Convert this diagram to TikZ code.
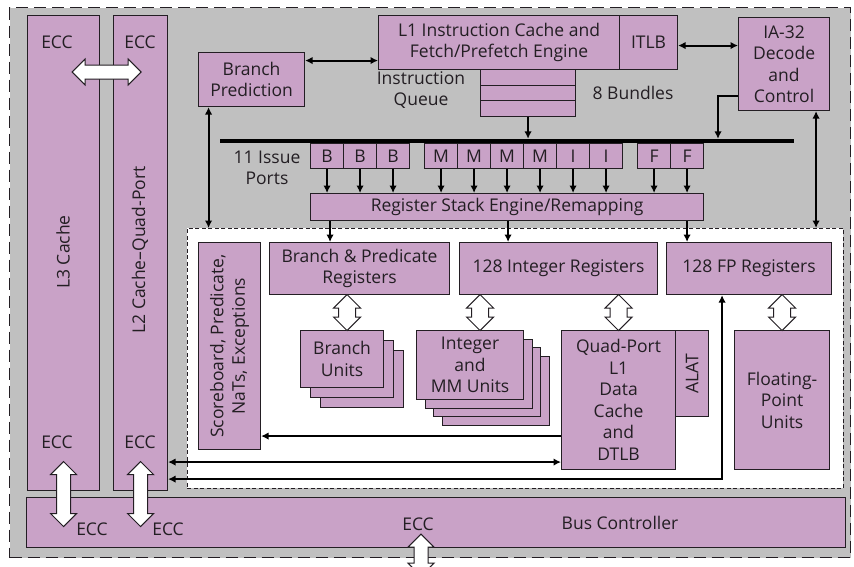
\documentclass[tikz,border=0pt]{standalone}
\usepackage{fontspec}
\setmainfont{Open Sans}
\usetikzlibrary{arrows.meta,shapes.arrows,calc}
\definecolor{lilac}{RGB}{201,162,199}
\definecolor{chipgray}{RGB}{192,192,192}
\definecolor{ink}{RGB}{35,30,35}

\begin{document}
\begin{tikzpicture}[x=1pt,y=-1pt,
  every node/.append style={font=\fontsize{17.5}{21.5}\selectfont, text=ink},
  wh/.style 2 args={minimum width=#1, minimum height=#2},
  box/.style={draw=ink, fill=lilac, line width=1.1pt, inner sep=0pt, align=center, anchor=north west},
  lbl/.style={inner sep=0pt, align=center},
  conn/.style={line width=2pt, draw=black},
  tip/.style={-{Latex[length=7.5pt,width=7.5pt]}},
  tips/.style={{Latex[length=7.5pt,width=7.5pt]}-{Latex[length=7.5pt,width=7.5pt]}},
  fatarrow/.style={shape=double arrow, draw=ink, fill=white, line width=1pt,
    inner xsep=0pt, inner ysep=8pt, minimum width=0pt, double arrow head extend=5pt,
    minimum height=#1},
  busarrow/.style={fatarrow=#1, inner ysep=6.5pt, double arrow head extend=6pt},
]
\useasboundingbox (0,0) rectangle (854,566);

% chip outline and execution core region
\node[fill=chipgray, draw=ink, dash pattern=on 12pt off 6pt, line width=1.3pt, inner sep=0pt,
  anchor=north west, wh={841}{550}] (chip) at (9,7) {};
\node[fill=white, draw=ink, dash pattern=on 4pt off 2.5pt, line width=0.9pt, inner sep=0pt,
  anchor=north west, wh={656}{260}] (core) at (187,228) {};

% caches
\node[box, wh={72}{475}] (l3) at (27,15) {};
\node[box, wh={54}{475}] (l2) at (113,15) {};
\node[lbl, rotate=90] at (63,252) {L3 Cache};
\node[lbl, rotate=90] at (140,250) {L2 Cache--Quad-Port};
\node[lbl] at (57,42) {ECC};
\node[lbl] at (140,42) {ECC};
\node[lbl] at (57,442) {ECC};
\node[lbl] at (140,442) {ECC};

% bus controller
\node[box, wh={819}{50}] (bus) at (26,497) {};
\node[lbl] at (620,523) {Bus Controller};
\node[lbl] at (92,529) {ECC};
\node[lbl] at (168,529) {ECC};
\node[lbl] at (418,524) {ECC};

% front end
\node[box, wh={106}{54}] (bp) at (198,52) {Branch\\Prediction};
\node[box, wh={241}{54}] (l1) at (378,15) {L1 Instruction Cache and\\Fetch/Prefetch Engine};
\node[box, wh={58}{54}] (itlb) at (619,15) {ITLB};
\node[box, wh={91}{93}] (ia) at (738,17) {IA-32\\Decode\\and\\Control};
\node[box, wh={95}{15.5}] (q1) at (480,69) {};
\node[box, wh={95}{15.5}] (q2) at (480,84.5) {};
\node[box, wh={95}{15.5}] (q3) at (480,100) {};
\node[lbl] at (421,90) {Instruction\\Queue};
\node[lbl] at (633,93) {8 Bundles};

% dispersal bar and issue ports
\node[fill=black, inner sep=0pt, anchor=west, wh={574}{4}] (bar) at (220,141) {};
\node[lbl] at (267,168) {11 Issue\\Ports};
\foreach \n/\x/\t in {b1/310/B, b2/343/B, b3/376/B,
                      m1/424/M, m2/457/M, m3/490/M, m4/523/M,
                      i1/556/I, i2/589/I, f1/637/F, f2/670/F}
  \node[box, wh={33}{25}] (\n) at (\x,143) {\t};
\node[box, wh={393}{27}] (rse) at (310,193) {Register Stack Engine/Remapping};

% register files
\node[box, wh={62}{207}] (sb) at (198,242) {};
\node[lbl, rotate=90] at (sb.center) {Scoreboard, Predicate,\\NaTs, Exceptions};
\node[box, wh={180}{52}] (bpr) at (269,242) {Branch \& Predicate\\Registers};
\node[box, wh={198}{52}] (ir) at (459,242) {128 Integer Registers};
\node[box, wh={165}{52}] (fpr) at (666,242) {128 FP Registers};

% execution units
\node[box, wh={83}{57}] (bu3) at (320,350) {};
\node[box, wh={83}{57}] (bu2) at (310,340) {};
\node[box, wh={83}{57}] (bu) at (300,330) {Branch\\Units};
\node[box, wh={107}{69}] (imu4) at (442,356) {};
\node[box, wh={107}{69}] (imu3) at (433.3,347.3) {};
\node[box, wh={107}{69}] (imu2) at (424.7,338.7) {};
\node[box, wh={107}{69}] (imu) at (416,330) {Integer\\and\\MM Units};
\node[box, wh={114}{139}] (dc) at (561,330) {Quad-Port\\L1\\Data\\Cache\\and\\DTLB};
\node[box, wh={33}{86}] (alat) at (675,330) {};
\node[lbl, rotate=90] at (alat.center) {ALAT};
\node[box, wh={95}{139}] (fpu) at (734,330) {Floating-\\Point\\Units};

% wide data paths
\node[busarrow=69] (a1) at ($(l3.north east)!0.5!(l2.north west)+(0,57)$) {};
\node[busarrow=65, rotate=90] (a2) at ($(l3.south)!0.5!(l3.south |- bus.north)$) {};
\node[busarrow=65, rotate=90] (a3) at ($(l2.south)!0.5!(l2.south |- bus.north)$) {};
\node[busarrow=42, rotate=90] (a4) at ($(bus.south)+(-15,7)$) {};
\node[fatarrow=36, rotate=90] (a5) at ($(bu.north)!0.5!(bu.north |- bpr.south)+(5,0)$) {};
\node[fatarrow=36, rotate=90] (a6) at ($(imu.north)!0.5!(imu.north |- ir.south)+(10,0)$) {};
\node[fatarrow=36, rotate=90] (a7) at ($(dc.north)!0.5!(dc.north |- ir.south)$) {};
\node[fatarrow=36, rotate=90] (a8) at ($(fpu.north)!0.5!(fpu.north |- fpr.south)$) {};

% control paths
\coordinate (bpl1) at ([yshift=19pt]bp.east);
\draw[conn, tips] (bpl1) -- (bpl1 -| l1.west);
\coordinate (itia) at ([yshift=-3pt]itlb.east);
\draw[conn, tips] (itia) -- (itia -| ia.west);
\draw[conn, tip] (q3.south) -- (q3.south |- bar.north);
\coordinate (iaout) at ([yshift=-32pt]ia.west);
\coordinate (iadrop) at ([xshift=-20pt]iaout);
\draw[conn, tip] (iaout) -| (iadrop |- bar.north);
\coordinate (iacore) at ([xshift=32pt]ia.south);
\draw[conn, tips] (iacore) -- (iacore |- core.north);
\coordinate (bpcore) at ([xshift=-43pt]bp.south);
\draw[conn, tips] (bpcore) -- (bpcore |- core.north);
\foreach \n in {b1,b2,b3,m1,m2,m3,m4,i1,i2,f1,f2}
  \draw[conn, tip] (\n.south) -- (\n.south |- rse.north);
\draw[conn, tip] ([xshift=3pt]b1.south |- rse.south) -- ([xshift=3pt]b1.south |- bpr.north);
\draw[conn, tip] ([xshift=1pt]m3.south |- rse.south) -- ([xshift=1pt]m3.south |- ir.north);
\draw[conn, tip] (f2.south |- rse.south) -- (f2.south |- fpr.north);

% data cache paths
\coordinate (dcsb) at ([yshift=-36pt]dc.west);
\draw[conn, tip] (dcsb) -- (dcsb -| sb.east);
\coordinate (dcl2) at ([yshift=-62pt]dc.west);
\draw[conn, tips] (dcl2 -| l2.east) -- (dcl2);
\coordinate (fpdn) at ([xshift=-27pt]fpr.south);
\coordinate (lowbus) at ([yshift=-9pt]dc.south);
\draw[conn, tips] (fpdn) |- (lowbus -| l2.east);
\end{tikzpicture}
\end{document}
